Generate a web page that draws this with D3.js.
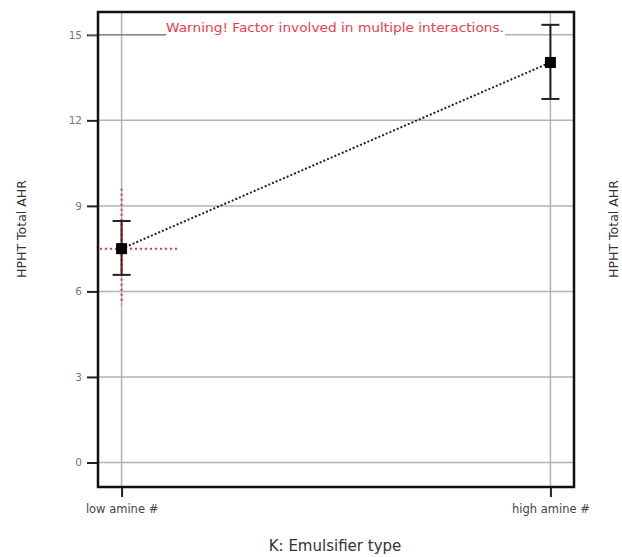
<!DOCTYPE html>
<html>
<head>
<meta charset="utf-8">
<script src="https://cdn.jsdelivr.net/npm/d3@7"></script>
<style>
  body { margin: 0; background: #fff; }
  text { font-family: "DejaVu Sans", "Open Sans", sans-serif; }
</style>
</head>
<body>
<div id="chart"></div>
<script>
// factor levels and predicted means with 95% CI
const levels = ["low amine #", "high amine #"];
const means = [7.5, 14.03];
const lower = [6.58, 12.75];
const upper = [8.47, 15.35];
const yTicks = [0, 3, 6, 9, 12, 15];
// red dotted LSD-style crosshair on the selected level
const lsdLow = 5.55, lsdHigh = 9.6;

const W = 622, H = 557;
const margin = {top: 12, right: 48, bottom: 70, left: 98};
const width = W - margin.left - margin.right,
      height = H - margin.top - margin.bottom;

const svg = d3.select("#chart").append("svg")
    .attr("width", W).attr("height", H);
const g = svg.append("g")
    .attr("transform", `translate(${margin.left},${margin.top})`);

const y = d3.scaleLinear().domain([-0.86, 15.8]).range([height, 0]);
const x = d3.scalePoint().domain(levels).range([0, width]).padding(0.055);
const xPos = d => x(d);

// horizontal grid
g.selectAll(".hgrid").data(yTicks).enter().append("line")
    .attr("x1", 0).attr("x2", width)
    .attr("y1", d => y(d)).attr("y2", d => y(d))
    .attr("stroke", "#b3b3b3").attr("stroke-width", 1.5);
// vertical grid at levels
g.selectAll(".vgrid").data(levels).enter().append("line")
    .attr("x1", xPos).attr("x2", xPos)
    .attr("y1", 0).attr("y2", height)
    .attr("stroke", "#b3b3b3").attr("stroke-width", 1.5);

// y axis
const yAxis = d3.axisLeft(y).tickValues(yTicks).tickSize(11).tickPadding(5);
const ya = g.append("g").call(yAxis);
ya.select(".domain").remove();
ya.selectAll(".tick line").attr("stroke", "#222").attr("stroke-width", 2);
ya.selectAll("text").attr("fill", "#777").style("font-size", "10.5px");

// x axis
const xAxis = d3.axisBottom(x).tickSize(10).tickPadding(8);
const xa = g.append("g").attr("transform", `translate(0,${height})`).call(xAxis);
xa.select(".domain").remove();
xa.selectAll(".tick line").attr("stroke", "#222").attr("stroke-width", 2);
xa.selectAll("text").attr("fill", "#444").style("font-size", "11.5px");

// warning text with white box covering grid, grey lead line from tick 15
const warn = g.append("g");
const wt = warn.append("text")
    .attr("x", (165 + 505) / 2 - margin.left).attr("y", y(15) - 3)
    .attr("text-anchor", "middle")
    .attr("fill", "#f03c4c").style("font-size", "12px")
    .attr("textLength", 338).attr("lengthAdjust", "spacingAndGlyphs")
    .text("Warning! Factor involved in multiple interactions.");
const bb = wt.node().getBBox();
warn.insert("rect", "text")
    .attr("x", bb.x - 1).attr("y", bb.y).attr("width", bb.width + 2).attr("height", bb.height + 2)
    .attr("fill", "#fff");
warn.append("line").attr("x1", -10).attr("x2", bb.x)
    .attr("y1", y(15)).attr("y2", y(15))
    .attr("stroke", "#888").attr("stroke-width", 1.5);

// red crosshair on low level
g.append("line")
    .attr("x1", x(levels[0])).attr("x2", x(levels[0]))
    .attr("y1", y(lsdHigh)).attr("y2", y(lsdLow))
    .attr("stroke", "#f0303a").attr("stroke-width", 2).attr("stroke-dasharray", "2,3");
g.append("line")
    .attr("x1", 2).attr("x2", x(levels[0]) + 58)
    .attr("y1", y(means[0])).attr("y2", y(means[0]))
    .attr("stroke", "#f0303a").attr("stroke-width", 2).attr("stroke-dasharray", "2,3");

// error bars
const bars = g.selectAll(".err").data(levels).enter().append("g");
bars.append("line")
    .attr("x1", xPos).attr("x2", xPos)
    .attr("y1", (d, i) => y(upper[i])).attr("y2", (d, i) => y(lower[i]))
    .attr("stroke", (d, i) => i === 0 ? "#5a1414" : "#222").attr("stroke-width", 2);
bars.append("line")
    .attr("x1", d => x(d) - 9).attr("x2", d => x(d) + 9)
    .attr("y1", (d, i) => y(upper[i])).attr("y2", (d, i) => y(upper[i]))
    .attr("stroke", "#222").attr("stroke-width", 2);
bars.append("line")
    .attr("x1", d => x(d) - 9).attr("x2", d => x(d) + 9)
    .attr("y1", (d, i) => y(lower[i])).attr("y2", (d, i) => y(lower[i]))
    .attr("stroke", "#222").attr("stroke-width", 2);

// dotted line joining means
const line = d3.line().x((d, i) => x(levels[i])).y(d => y(d));
g.append("path").datum(means)
    .attr("d", line)
    .attr("fill", "none").attr("stroke", "#222")
    .attr("stroke-width", 2).attr("stroke-dasharray", "2,2");

// markers
g.selectAll(".pt").data(means).enter().append("rect")
    .attr("x", (d, i) => x(levels[i]) - 5.5)
    .attr("y", d => y(d) - 5.5)
    .attr("width", 11).attr("height", 11)
    .attr("fill", "#000");

// frame
g.append("rect").attr("width", width).attr("height", height)
    .attr("fill", "none").attr("stroke", "#111").attr("stroke-width", 2.5);

// axis titles
svg.append("text")
    .attr("x", 335).attr("y", 551)
    .attr("text-anchor", "middle").attr("fill", "#333").style("font-size", "15px")
    .text("K: Emulsifier type");
[22, 614].forEach(px => {
  svg.append("text")
      .attr("transform", `translate(${px},229) rotate(-90)`)
      .attr("text-anchor", "middle").attr("dy", "0.35em")
      .attr("fill", "#333").style("font-size", "12.5px")
      .text("HPHT Total AHR");
});
</script>
</body>
</html>
